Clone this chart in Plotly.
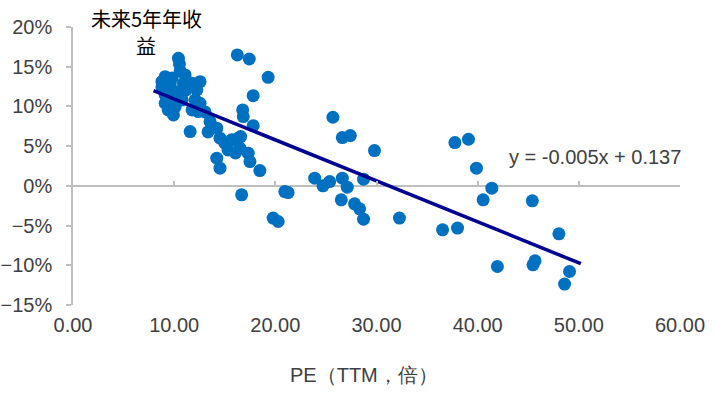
import plotly.graph_objects as go

# PE (TTM) values and future 5-year returns
pe = [37.75, 39.09, 39.88, 41.40, 40.54, 45.40, 36.53, 38.01, 48.03, 41.95,
      45.47, 45.67, 49.08, 48.59,
      25.69, 26.62, 27.41, 29.80, 23.89, 24.71, 25.37, 26.62, 27.11, 28.72,
      26.52, 27.83, 28.33, 28.72, 32.27,
      16.24, 17.42, 19.29, 17.81, 16.77, 16.83, 17.81, 16.57, 17.32, 17.49,
      18.47, 16.67, 20.94, 21.26, 19.78, 20.28,
      10.42, 10.52, 10.59, 9.11, 8.79, 8.79, 9.61, 10.92, 11.74, 12.56,
      12.24, 9.44, 9.11, 10.10, 9.93, 11.58, 12.56, 12.39, 13.55, 14.21,
      14.53, 15.02, 15.68, 16.33, 16.50, 14.21, 14.53,
      9.11, 9.80, 10.39, 11.18, 10.79, 9.41, 11.77, 13.05, 11.08, 12.07,
      15.32, 16.06, 13.35, 9.41]
ret = [0.0545, 0.0587, 0.0223, -0.0029, -0.0176, -0.0189, -0.0553, -0.0532, -0.0604, -0.1015,
       -0.0994, -0.0943, -0.1078, -0.1236,
       0.0864, 0.0608, 0.0633, 0.0444, 0.0097, 0.0000, 0.0054, 0.0097, -0.0016, 0.0084,
       -0.0176, -0.0226, -0.0289, -0.0419, -0.0406,
       0.1648, 0.1597, 0.1367, 0.1136, 0.0956, 0.0872, 0.0758, 0.0620, 0.0411, 0.0306,
       0.0192, -0.0113, -0.0072, -0.0084, -0.0406, -0.0449,
       0.1606, 0.1535, 0.1447, 0.1375, 0.1312, 0.1245, 0.1270, 0.1292, 0.1292, 0.1312,
       0.1208, 0.1166, 0.1040, 0.0997, 0.0893, 0.0683, 0.1040, 0.0935, 0.0809, 0.0726,
       0.0600, 0.0537, 0.0579, 0.0600, 0.0474, 0.0348, 0.0223,
       0.1145, 0.1358, 0.1182, 0.1208, 0.1082, 0.0956, 0.0956, 0.0931, 0.1396, 0.1082,
       0.0453, 0.0415, 0.0679, 0.1082]

# Trend line endpoints as drawn in the reference
trend_x = [7.96, 50.2]
trend_y = [0.120, -0.098]

x_ticks = [0, 10, 20, 30, 40, 50, 60]
y_ticks = [-0.15, -0.10, -0.05, 0, 0.05, 0.10, 0.15, 0.20]

equation_text = "y = -0.005x + 0.137"
y_title_line1 = "未来5年年收"
y_title_line2 = "益"
x_title = "PE（TTM，倍）"

font_family = "Liberation Sans, Arial, sans-serif"
text_color = "#404040"
axis_color = "#BFBFBF"

fig = go.Figure()
fig.add_trace(go.Scatter(
    x=pe, y=ret, mode="markers",
    marker=dict(color="#0070C0", size=13, line=dict(width=0)),
    showlegend=False, hoverinfo="x+y"))
fig.add_trace(go.Scatter(
    x=trend_x, y=trend_y, mode="lines",
    line=dict(color="#000090", width=3.5),
    showlegend=False, hoverinfo="skip"))
# invisible helper trace for the tick-mark axis along y = 0
fig.add_trace(go.Scatter(
    x=[x_ticks[0]], y=[0], xaxis="x2", mode="markers",
    marker=dict(opacity=0), showlegend=False, hoverinfo="skip"))

y_min, y_max = y_ticks[0], y_ticks[-1]
zero_pos = (0 - y_min) / (y_max - y_min)

title_font = dict(family="Noto Sans CJK SC", size=20, color="#000000")

fig.update_layout(
    width=717, height=396,
    margin=dict(l=73, r=37, t=27, b=91),
    paper_bgcolor="white", plot_bgcolor="white",
    font=dict(family=font_family, size=20, color=text_color),
    xaxis=dict(
        range=[x_ticks[0], x_ticks[-1]], tickvals=x_ticks, tickformat=".2f",
        showgrid=False, zeroline=False, showline=False, ticks="",
        ticklabelstandoff=6, automargin=False,
        tickfont=dict(family=font_family, size=20, color=text_color)),
    xaxis2=dict(
        range=[x_ticks[0], x_ticks[-1]], tickvals=x_ticks, overlaying="x",
        anchor="free", position=zero_pos, side="bottom", automargin=False,
        showgrid=False, zeroline=False, showline=False,
        ticks="inside", ticklen=5, tickwidth=1.5, tickcolor=axis_color,
        showticklabels=False),
    yaxis=dict(
        range=[y_min, y_max], tickvals=y_ticks, tickformat=".0%",
        showgrid=False, zeroline=True, zerolinecolor=axis_color, zerolinewidth=1.5,
        showline=True, linecolor=axis_color, linewidth=1.5,
        ticks="outside", ticklen=5, tickwidth=1.5, tickcolor=axis_color,
        ticklabelstandoff=10, automargin=False,
        tickfont=dict(family=font_family, size=20, color=text_color)),
    annotations=[
        dict(text=y_title_line1, xref="paper", yref="paper", x=0.121, y=1.032,
             xanchor="center", yanchor="middle", showarrow=False, font=title_font),
        dict(text=y_title_line2, xref="paper", yref="paper", x=0.12, y=0.935,
             xanchor="center", yanchor="middle", showarrow=False, font=title_font),
        dict(text=equation_text, xref="paper", yref="paper", x=0.86, y=0.532,
             xanchor="center", yanchor="middle", showarrow=False,
             font=dict(family=font_family, size=20, color=text_color)),
        dict(text=x_title, xref="paper", yref="paper", x=0.48, y=-0.252,
             xanchor="center", yanchor="middle", showarrow=False,
             font=dict(family=font_family, size=20, color=text_color)),
    ],
)

fig.write_html("out.html", config={"displayModeBar": False},
               post_script="document.body.style.margin='0';")
